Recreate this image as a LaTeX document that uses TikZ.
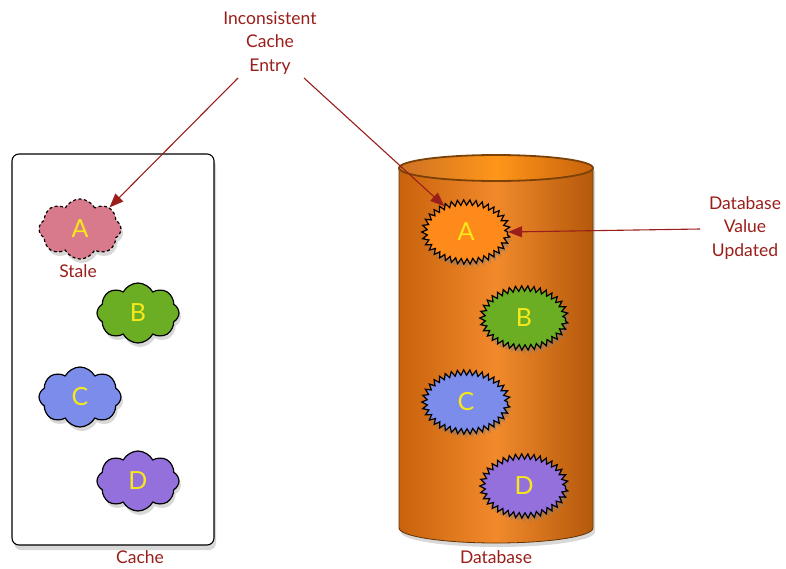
\documentclass[tikz,border=0pt]{standalone}
\usepackage{fontspec}
\setmainfont{Lato}
\usetikzlibrary{shapes.symbols,shapes.geometric,shadows,arrows.meta,decorations.pathmorphing}
\definecolor{lblred}{HTML}{9A1E1A}
\definecolor{letter}{HTML}{F7E81C}
\definecolor{stalepink}{HTML}{D97A8C}
\definecolor{cgreen}{HTML}{6BAE24}
\definecolor{cblue}{HTML}{7B8CEB}
\definecolor{cpurple}{HTML}{9470DC}
\definecolor{dborange}{HTML}{FF8A1C}
\definecolor{cyldark}{HTML}{C8620C}
\definecolor{cylmid}{HTML}{F28A2C}
\definecolor{cylrim}{HTML}{7A4208}
\tikzset{
  x=1pt,y=-1pt,
  lbl/.style={text=lblred,font=\fontsize{17.5}{23.5}\selectfont,align=center,inner sep=0},
  item/.style={text=letter,font=\fontsize{25}{25}\selectfont},
  cachecloud/.style={cloud,cloud puffs=8,cloud puff arc=125,cloud ignores aspect,
    minimum width=82pt,minimum height=60pt,inner sep=0,draw=black,line width=1.2pt,
    fill=#1,drop shadow={shadow xshift=2pt,shadow yshift=-4pt,opacity=0.3},item},
  dbburst/.style={ellipse,minimum width=83pt,minimum height=59pt,inner sep=0,
    draw=black,line width=1.2pt,fill=#1,
    decorate,decoration={zigzag,segment length=6pt,amplitude=2.7pt},
    drop shadow={shadow xshift=2pt,shadow yshift=-4pt,opacity=0.45},item},
  arr/.style={draw=lblred,line width=1.1pt,-{Triangle[length=14pt,width=11pt]}},
}
\begin{document}
\begin{tikzpicture}
\useasboundingbox[fill=white] (0,0) rectangle (786,568);

% cache container
\draw[rounded corners=7pt,line width=1.1pt,fill=white,
  drop shadow={shadow xshift=2pt,shadow yshift=-5pt,opacity=0.3}]
  (12,154) rectangle (214,545);
\node[lbl] (cachelbl) at (140,557) {Cache};

% database cylinder
\path[left color=cyldark,right color=cyldark!90!black,middle color=cylmid,
  drop shadow={shadow xshift=2pt,shadow yshift=-4pt,opacity=0.3}]
  (399,168) -- (399,528) arc[start angle=180,end angle=360,x radius=97pt,y radius=15pt]
  -- (593,168) arc[start angle=0,end angle=180,x radius=97pt,y radius=13pt] -- cycle;
\draw[draw=cylrim!80!black,line width=0.8pt]
  (399,168) -- (399,528) arc[start angle=180,end angle=360,x radius=97pt,y radius=15pt]
  -- (593,168);
\draw[left color=cyldark!90,right color=cyldark,middle color=dborange!90!yellow,
  draw=cylrim,line width=1.8pt] (496,168) ellipse[x radius=97pt,y radius=13pt];
\node[lbl] (dblbl) at (496,557) {Database};

% cached entries
\node[cachecloud=stalepink,dashed,dash pattern=on 3pt off 2.5pt] (ca) at (80,229) {A};
\node[lbl] (stale) at (78,271) {Stale};
\node[cachecloud=cgreen] (cb) at (138,313) {B};
\node[cachecloud=cblue] (cc) at (80,397) {C};
\node[cachecloud=cpurple] (cd) at (138,481) {D};

% database entries
\node[dbburst=dborange] (da) at (466,232) {A};
\node[dbburst=cgreen] (db) at (524,318) {B};
\node[dbburst=cblue] (dc) at (466,402) {C};
\node[dbburst=cpurple] (dd) at (524,486) {D};

% annotations
\node[lbl] (incons) at (270,43) {Inconsistent\\Cache\\Entry};
\node[lbl] (updated) at (745,228) {Database\\Value\\Updated};
\coordinate (incl) at (238,78);
\coordinate (incr) at (304,78);
\coordinate (updl) at (700,229);
\draw[arr] (incl) -- (ca.north east);
\draw[arr] (incr) -- (da.130);
\draw[arr] (updl) -- (da.east);
\end{tikzpicture}
\end{document}
